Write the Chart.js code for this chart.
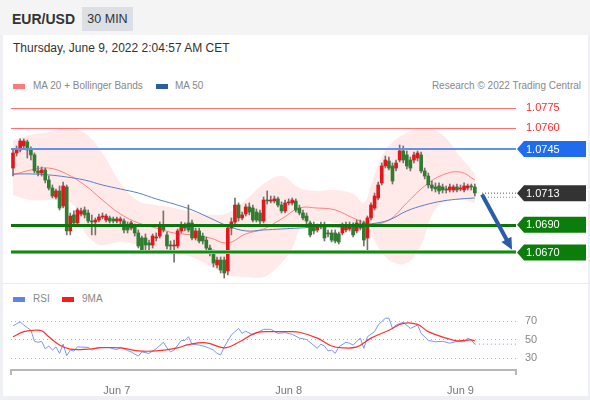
<!DOCTYPE html>
<html>
<head>
<meta charset="utf-8">
<script src="https://cdn.jsdelivr.net/npm/chart.js@4.4.0/dist/chart.umd.min.js"></script>
<style>
html, body { margin: 0; padding: 0; }
body { width: 590px; height: 400px; background: #eef0f3; font-family: "Liberation Sans", Arial, sans-serif; position: relative; overflow: hidden; }
#head { position: absolute; left: 0; top: 0; width: 590px; height: 35px; background: #f4f4f4; }
#pair { position: absolute; left: 12px; top: 11px; font-size: 14px; font-weight: bold; color: #333; }
#tf { position: absolute; left: 82px; top: 7px; width: 51px; height: 24px; line-height: 24px; text-align: center; background: #dcdfe3; font-size: 12.5px; color: #333; }
#card { position: absolute; left: 3px; top: 35px; width: 585px; height: 361px; background: #fff; }
#date { position: absolute; left: 13px; top: 41px; font-size: 12px; color: #333; }
.leg { position: absolute; font-size: 10px; color: #888; }
.sw { position: absolute; height: 5px; width: 12px; }
canvas { position: absolute; left: 0; }
</style>
</head>
<body>
<div id="head"></div>
<div id="pair">EUR/USD</div>
<div id="tf">30 MIN</div>
<div id="card"></div>
<div id="date">Thursday, June 9, 2022 2:04:57 AM CET</div>

<div class="sw" style="left:13px;top:84px;background:#ff7b7b"></div>
<div class="leg" style="left:33px;top:80px">MA 20 + Bollinger Bands</div>
<div class="sw" style="left:156px;top:84px;background:#2e5d9f"></div>
<div class="leg" style="left:175px;top:80px">MA 50</div>
<div class="leg" style="right:9px;top:80px">Research © 2022 Trading Central</div>

<div class="sw" style="left:13px;top:297px;background:#5f83e8"></div>
<div class="leg" style="left:33px;top:293px">RSI</div>
<div class="sw" style="left:62px;top:297px;background:#ff1a1a"></div>
<div class="leg" style="left:82px;top:293px">9MA</div>

<canvas id="main" width="590" height="189" style="top:95px"></canvas>
<canvas id="rsi" width="590" height="110" style="top:285px"></canvas>

<script>
// 30 min candles, Jun 6 09:30 -> Jun 9 02:00
const opens = [
  1.07312,1.07421,1.07443,1.07472,1.07501,1.07443,1.07407,1.07291,1.07276,1.07298,
  1.07225,1.07167,1.07102,1.07146,1.07037,1.07175,1.06856,1.06972,1.06914,1.06979,
  1.07008,1.06986,1.06928,1.06921,1.06935,1.06957,1.06935,1.0695,1.06943,1.06928,
  1.06928,1.06928,1.06899,1.06877,1.06892,1.06841,1.06805,1.06805,1.06769,1.06754,
  1.06805,1.06819,1.06892,1.06827,1.06754,1.06747,1.06747,1.06856,1.06877,1.06914,
  1.06914,1.06805,1.06856,1.06819,1.0679,1.06732,1.06696,1.06609,1.06645,1.06645,
  1.06566,1.06877,1.06921,1.07044,1.0695,1.06979,1.0703,1.07022,1.06993,1.06986,
  1.06928,1.0708,1.07073,1.07073,1.07088,1.07044,1.07001,1.07059,1.07059,1.07073,
  1.07022,1.06986,1.06964,1.06914,1.06899,1.06863,1.06885,1.06899,1.06841,1.06841,
  1.06841,1.06834,1.06841,1.06863,1.0687,1.06892,1.06856,1.06877,1.06914,1.06805,
  1.0695,1.07022,1.07095,1.07204,1.07327,1.07363,1.07327,1.07312,1.0737,1.07436,
  1.07407,1.0737,1.0737,1.07385,1.07407,1.07291,1.07254,1.07189,1.07175,1.07182,
  1.07175,1.0716,1.07153,1.07153,1.07175,1.0716,1.07153,1.07167,1.07182,1.07175
];
const highs = [
  1.07443,1.07472,1.07523,1.07523,1.07515,1.07465,1.07421,1.07327,1.0732,1.07312,
  1.07254,1.07189,1.0716,1.07182,1.07211,1.07189,1.06986,1.07001,1.07022,1.07022,
  1.0703,1.07008,1.06972,1.0695,1.06979,1.06986,1.06979,1.06964,1.06957,1.06957,
  1.06957,1.06943,1.06921,1.06928,1.06906,1.06863,1.06819,1.06834,1.0679,1.06834,
  1.06841,1.06921,1.07001,1.06848,1.06783,1.0679,1.0687,1.06921,1.06914,1.07044,
  1.06935,1.06877,1.06877,1.06841,1.06812,1.06754,1.06718,1.06667,1.06667,1.06667,
  1.06892,1.0695,1.07095,1.07059,1.06993,1.07051,1.07059,1.07044,1.07015,1.07008,
  1.07102,1.07146,1.07109,1.07109,1.07102,1.07066,1.0708,1.07088,1.07095,1.07088,
  1.07044,1.07008,1.06986,1.06928,1.06921,1.06906,1.06921,1.06921,1.06863,1.06863,
  1.06863,1.06848,1.06914,1.06921,1.06921,1.06914,1.06935,1.06935,1.06928,1.06964,
  1.07059,1.07131,1.07211,1.07349,1.07399,1.07392,1.07349,1.0737,1.07479,1.07472,
  1.07436,1.07392,1.07428,1.07436,1.07428,1.07312,1.07276,1.07218,1.07204,1.07204,
  1.07196,1.07182,1.07196,1.07189,1.07196,1.07189,1.07204,1.07196,1.07196,1.07196
];
const lows = [
  1.07254,1.07399,1.07428,1.0745,1.07385,1.0737,1.07276,1.07254,1.07254,1.07204,
  1.07153,1.07095,1.07088,1.07008,1.07022,1.06827,1.06827,1.06892,1.06899,1.06964,
  1.0695,1.06914,1.06827,1.06827,1.06921,1.06943,1.06921,1.06914,1.06914,1.06914,
  1.06906,1.06841,1.06841,1.06863,1.06819,1.06732,1.06703,1.06718,1.0671,1.06732,
  1.06783,1.06805,1.06848,1.06725,1.06703,1.0663,1.06732,1.06841,1.06856,1.06848,
  1.0679,1.0679,1.06769,1.06761,1.0671,1.06674,1.06595,1.06587,1.06551,1.06515,
  1.06537,1.06827,1.06906,1.06928,1.06935,1.06964,1.06972,1.06921,1.06921,1.06906,
  1.06914,1.07051,1.07059,1.07059,1.0703,1.06986,1.06986,1.07044,1.07044,1.06993,
  1.06972,1.06935,1.06906,1.06812,1.06834,1.06848,1.0687,1.06783,1.06812,1.06776,
  1.06769,1.06761,1.06827,1.06848,1.06856,1.06812,1.06841,1.06863,1.06747,1.06703,
  1.06935,1.07008,1.0708,1.07189,1.07312,1.07298,1.07196,1.07291,1.07356,1.07349,
  1.07305,1.07291,1.07349,1.07363,1.07276,1.07233,1.07167,1.07146,1.07138,1.07124,
  1.07131,1.07131,1.07138,1.07138,1.07138,1.07146,1.07138,1.07153,1.07153,1.07109
];
const closes = [
  1.07421,1.07443,1.07508,1.07508,1.07443,1.07407,1.07291,1.07276,1.07298,1.07225,
  1.07167,1.07109,1.07146,1.07022,1.07182,1.06856,1.06964,1.06914,1.07008,1.07001,
  1.06972,1.06928,1.06921,1.06935,1.06957,1.06964,1.06964,1.06928,1.06928,1.06943,
  1.06943,1.06863,1.06863,1.06914,1.06841,1.06747,1.06718,1.06754,1.06754,1.06819,
  1.06812,1.06892,1.06863,1.06747,1.06747,1.06754,1.06856,1.06892,1.06892,1.06863,
  1.06805,1.06856,1.06783,1.06783,1.06732,1.06696,1.06623,1.06645,1.06573,1.06551,
  1.06877,1.06921,1.07044,1.0695,1.06972,1.0703,1.06993,1.06935,1.06935,1.06928,
  1.0708,1.07073,1.0708,1.07088,1.07044,1.07001,1.07059,1.07066,1.0708,1.07008,
  1.06986,1.0695,1.06928,1.06827,1.06856,1.06885,1.06892,1.06805,1.06834,1.0679,
  1.06783,1.06776,1.06892,1.06899,1.06899,1.06827,1.06914,1.06906,1.0679,1.0695,
  1.07044,1.07109,1.07189,1.07327,1.0737,1.07312,1.07218,1.07349,1.07436,1.0737,
  1.07327,1.07312,1.07407,1.07421,1.07291,1.07254,1.07189,1.07167,1.0716,1.07146,
  1.07153,1.07153,1.07175,1.07175,1.07153,1.07167,1.07182,1.07182,1.07175,1.07131
];

// Bollinger bands / moving averages, read at sampled candle positions
const upperIdx = [0,5,10,15,20,25,30,35,40,45,50,55,60,65,70,75,80,85,90,95,98,100,102,105,110,115,120,125,129];
const upperBand = [1.07515,1.07552,1.07573,1.07602,1.07566,1.07421,1.07204,1.07073,1.07044,1.07022,1.06993,1.06972,1.06986,1.0708,1.07196,1.07254,1.07167,1.07146,1.07153,1.07124,1.07059,1.07189,1.07334,1.07472,1.07566,1.07602,1.07552,1.07392,1.07269];
const lowerIdx = [0,5,10,15,18,20,23,25,30,35,40,45,50,55,60,65,70,73,75,78,80,82,85,90,95,98,100,103,106,110,114,117,120,125,129];
const lowerBand = [1.07117,1.0708,1.0708,1.07073,1.07008,1.06848,1.06769,1.06754,1.06776,1.06754,1.06703,1.06689,1.06667,1.06602,1.06537,1.06522,1.06522,1.06573,1.06623,1.06732,1.06863,1.06914,1.06928,1.06914,1.06877,1.06877,1.06827,1.06703,1.0663,1.06623,1.06754,1.06972,1.07059,1.0708,1.07059];
const maIdx = [0,5,10,15,20,25,30,35,40,45,50,55,60,65,70,75,80,85,90,95,100,105,110,115,120,125,129];
const ma20 = [1.07262,1.07298,1.07312,1.07269,1.07189,1.0708,1.06979,1.06914,1.06877,1.06841,1.06827,1.06805,1.06769,1.06834,1.0687,1.06943,1.07022,1.07022,1.07008,1.0695,1.06906,1.06935,1.07059,1.07182,1.07262,1.07283,1.07225];
const ma50 = [1.07269,1.07269,1.07262,1.07247,1.07225,1.07189,1.0716,1.07131,1.07088,1.07051,1.07008,1.0695,1.06892,1.06856,1.06863,1.0687,1.06877,1.06885,1.06885,1.06885,1.06906,1.06935,1.07001,1.07044,1.07073,1.07088,1.07095];

// key levels
const resistLevels = [1.0775, 1.0760];
const pivotLevel = 1.0745;
const lastPrice = 1.0713;
const lastMa50 = 1.0710;
const supportLevels = [1.0690, 1.0670];
const arrowFrom = [131, 1.0712];
const arrowTo = [139.4, 1.0672];

// RSI panel
const rsiIdx = [0,1,2,3,4,5,6,7,8,9,10,11,12,13,14,15,16,17,18,21,22,24,27,29,30,32,33,35,36,38,40,42,43,44,45,47,48,49,50,52,54,56,57,58,59,61,63,64,65,67,70,72,74,76,78,80,82,85,86,87,88,89,90,91,93,94,95,97,98,99,101,102,104,105,106,107,109,111,113,114,116,118,120,122,124,126,127,128,129];
const rsiVals = [64.6,67,69,65.7,62.8,60,48,47,48,40,43,38.6,42,35,45,32.5,38.6,37.5,42,41.5,38.6,41.5,41,39,41.5,38,36.6,32,36.6,35,40,47,41,36.6,38.6,49,49,53,45,44,42,38.6,35,33.3,42,55,62,56.7,59,55,61,61,56.7,57.4,55.6,51.5,50,40.5,45,43,37.6,38.6,35,42,47,46,44,51.5,40.5,53,58.5,65.7,73,73,62,65.7,68.6,62,65.7,56.7,49,47.5,48,46,48,47.5,51.5,49.5,45];
const rsiMaIdx = [0,3,6,8,10,13,16,21,24,30,35,40,46,49,54,59,63,68,73,77,80,85,89,92,96,100,105,109,113,116,121,124,128,129];
const rsiMa = [53,58.5,60,59.4,53,44,39.6,39.6,41,41,37.7,37.7,41,44.5,46.4,41,47,57.4,58.5,58.5,57.8,51.5,43,41,42,51.5,60,67.5,66.4,58.5,51.5,48.6,49.6,48.6];
const rsiLevels = [30, 50, 70];

// time axis
const dayTickIdx = [29, 77, 125];
const dayTickLabels = ['Jun 7', 'Jun 8', 'Jun 9'];

const X_MIN = -0.56, X_MAX = 140.5;
const RED = '#e3161c', GREEN = '#2f7d2f';

const idx = opens.map((_, i) => i);
const pts = (xs, ys) => xs.map((x, i) => ({ x: x, y: ys[i] }));
const candleColor = c => {
  const i = c.dataIndex;
  return closes[i] > opens[i] ? RED : (closes[i] < opens[i] ? GREEN : '#444');
};

const levelsPlugin = {
  id: 'levels',
  afterDatasetsDraw(chart) {
    const { ctx, chartArea: a, scales: { x, y } } = chart;
    ctx.save();
    // bottom separator
    ctx.strokeStyle = '#ececec';
    ctx.lineWidth = 1;
    ctx.beginPath();
    ctx.moveTo(0, a.bottom - 0.5);
    ctx.lineTo(chart.width, a.bottom - 0.5);
    ctx.stroke();

    const hline = (v, color, w) => {
      const py = Math.round(y.getPixelForValue(v)) + (w % 2 ? 0.5 : 0);
      ctx.strokeStyle = color;
      ctx.lineWidth = w;
      ctx.beginPath();
      ctx.moveTo(a.left, py);
      ctx.lineTo(a.right, py);
      ctx.stroke();
    };
    resistLevels.forEach(v => hline(v, '#ff7070', 1));
    hline(pivotLevel, '#6590e8', 2);
    hline(supportLevels[0], '#0b760b', 3);
    hline(supportLevels[1], '#7bbf7b', 4);
    hline(supportLevels[1], '#138a13', 2);

    ctx.font = '11px "Liberation Sans", Arial, sans-serif';
    ctx.textBaseline = 'middle';
    ctx.textAlign = 'left';
    resistLevels.forEach(v => {
      ctx.fillStyle = '#ff2a2a';
      ctx.fillText(v.toFixed(4), a.right + 10, y.getPixelForValue(v));
    });
    const tag = (v, bg) => {
      const py = y.getPixelForValue(v);
      ctx.fillStyle = bg;
      ctx.beginPath();
      ctx.moveTo(a.right + 1, py);
      ctx.lineTo(a.right + 8, py - 8);
      ctx.lineTo(a.right + 70, py - 8);
      ctx.lineTo(a.right + 70, py + 8);
      ctx.lineTo(a.right + 8, py + 8);
      ctx.closePath();
      ctx.fill();
      ctx.fillStyle = '#fff';
      ctx.fillText(v.toFixed(4), a.right + 10, py + 0.5);
    };
    tag(pivotLevel, '#1f6cef');
    tag(lastPrice, '#333333');
    tag(supportLevels[0], '#0a7d0a');
    tag(supportLevels[1], '#0a7d0a');

    // forecast arrow
    const x0 = x.getPixelForValue(arrowFrom[0]), y0 = y.getPixelForValue(arrowFrom[1]);
    const x1 = x.getPixelForValue(arrowTo[0]), y1 = y.getPixelForValue(arrowTo[1]);
    const ang = Math.atan2(y1 - y0, x1 - x0);
    const head = 13;
    ctx.strokeStyle = '#2c5ca8';
    ctx.fillStyle = '#2c5ca8';
    ctx.lineWidth = 4;
    ctx.beginPath();
    ctx.moveTo(x0, y0);
    ctx.lineTo(x1 - head * 0.8 * Math.cos(ang), y1 - head * 0.8 * Math.sin(ang));
    ctx.stroke();
    ctx.beginPath();
    ctx.moveTo(x1, y1);
    ctx.lineTo(x1 - head * Math.cos(ang - 0.45), y1 - head * Math.sin(ang - 0.45));
    ctx.lineTo(x1 - head * Math.cos(ang + 0.45), y1 - head * Math.sin(ang + 0.45));
    ctx.closePath();
    ctx.fill();
    ctx.restore();
  }
};

new Chart(document.getElementById('main'), {
  type: 'bar',
  data: {
    datasets: [
      { type: 'line', data: pts(upperIdx, upperBand), borderWidth: 0, pointRadius: 0, tension: 0.4,
        fill: '+1', backgroundColor: 'rgba(255,40,40,0.1)', order: 6 },
      { type: 'line', data: pts(lowerIdx, lowerBand), borderWidth: 0, pointRadius: 0, tension: 0.4,
        fill: false, order: 6 },
      { type: 'line', data: pts(maIdx, ma50), borderColor: '#5a7fc0', borderWidth: 1, pointRadius: 0,
        tension: 0.4, fill: false, order: 4 },
      { type: 'line', data: pts(maIdx, ma20), borderColor: 'rgba(255,110,110,0.85)', borderWidth: 1,
        pointRadius: 0, tension: 0.4, fill: false, order: 4 },
      { data: idx.map(i => ({ x: i, y: [lows[i], highs[i]] })), backgroundColor: '#7a7070',
        barThickness: 1, grouped: false, order: 2 },
      { data: idx.map(i => ({ x: i, y: [opens[i], closes[i]] })), backgroundColor: candleColor,
        barThickness: 3, minBarLength: 1, grouped: false, order: 1 },
      { type: 'line', data: pts([131, X_MAX], [lastPrice, lastPrice]), borderColor: '#555',
        borderWidth: 1, borderDash: [1, 2], pointRadius: 0, fill: false, order: 0 },
      { type: 'line', data: pts([131, X_MAX], [lastMa50, lastMa50]), borderColor: '#7088b8',
        borderWidth: 1, borderDash: [1, 2], pointRadius: 0, fill: false, order: 0 }
    ]
  },
  options: {
    responsive: false,
    animation: false,
    events: [],
    layout: { padding: { left: 11, right: 74, top: 0, bottom: 0 } },
    scales: {
      x: { type: 'linear', min: X_MIN, max: X_MAX, offset: false, display: false },
      y: { min: 1.064713, max: 1.078415, display: false }
    },
    plugins: { legend: { display: false }, tooltip: { enabled: false } }
  },
  plugins: [levelsPlugin]
});

const axisPlugin = {
  id: 'rsiAxis',
  afterDraw(chart) {
    const { ctx, chartArea: a } = chart;
    ctx.save();
    ctx.strokeStyle = '#b8b8b8';
    ctx.lineWidth = 2;
    ctx.beginPath();
    ctx.moveTo(a.left, a.bottom + 5);
    ctx.lineTo(a.left, a.bottom);
    ctx.lineTo(a.right, a.bottom);
    ctx.lineTo(a.right, a.bottom + 5);
    ctx.stroke();
    ctx.restore();
  }
};

new Chart(document.getElementById('rsi'), {
  type: 'line',
  data: {
    datasets: [
      { data: pts(rsiMaIdx, rsiMa), borderColor: '#ff3030', borderWidth: 1.2, pointRadius: 0, tension: 0.4 },
      { data: pts(rsiIdx, rsiVals), borderColor: '#7b97ee', borderWidth: 1, pointRadius: 0, tension: 0 },
      { data: pts([129, X_MAX], [45, 45]), borderColor: '#7b97ee', borderWidth: 1, borderDash: [1, 3], pointRadius: 0 }
    ]
  },
  options: {
    responsive: false,
    animation: false,
    events: [],
    layout: { padding: { left: 11, right: 0, top: 20, bottom: 0 } },
    scales: {
      x: {
        type: 'linear', min: X_MIN, max: X_MAX, offset: false,
        grid: { display: false }, border: { display: false },
        afterBuildTicks: s => { s.ticks = dayTickIdx.map(v => ({ value: v })); },
        afterFit: s => { s.height = 25; },
        ticks: {
          padding: 6, color: '#777', font: { size: 11, family: '"Liberation Sans", Arial, sans-serif' },
          maxRotation: 0, autoSkip: false,
          callback: v => dayTickLabels[dayTickIdx.indexOf(v)]
        }
      },
      y: {
        position: 'right', min: 17.03, max: 87.3,
        afterBuildTicks: s => { s.ticks = rsiLevels.map(v => ({ value: v })); },
        afterFit: s => { s.width = 74; },
        grid: { color: '#b5b5b5', lineWidth: 1, drawTicks: false },
        border: { display: false, dash: [1, 3] },
        ticks: { padding: 9, color: '#888', font: { size: 11, family: '"Liberation Sans", Arial, sans-serif' } }
      }
    },
    plugins: { legend: { display: false }, tooltip: { enabled: false } }
  },
  plugins: [axisPlugin]
});
</script>
</body>
</html>
